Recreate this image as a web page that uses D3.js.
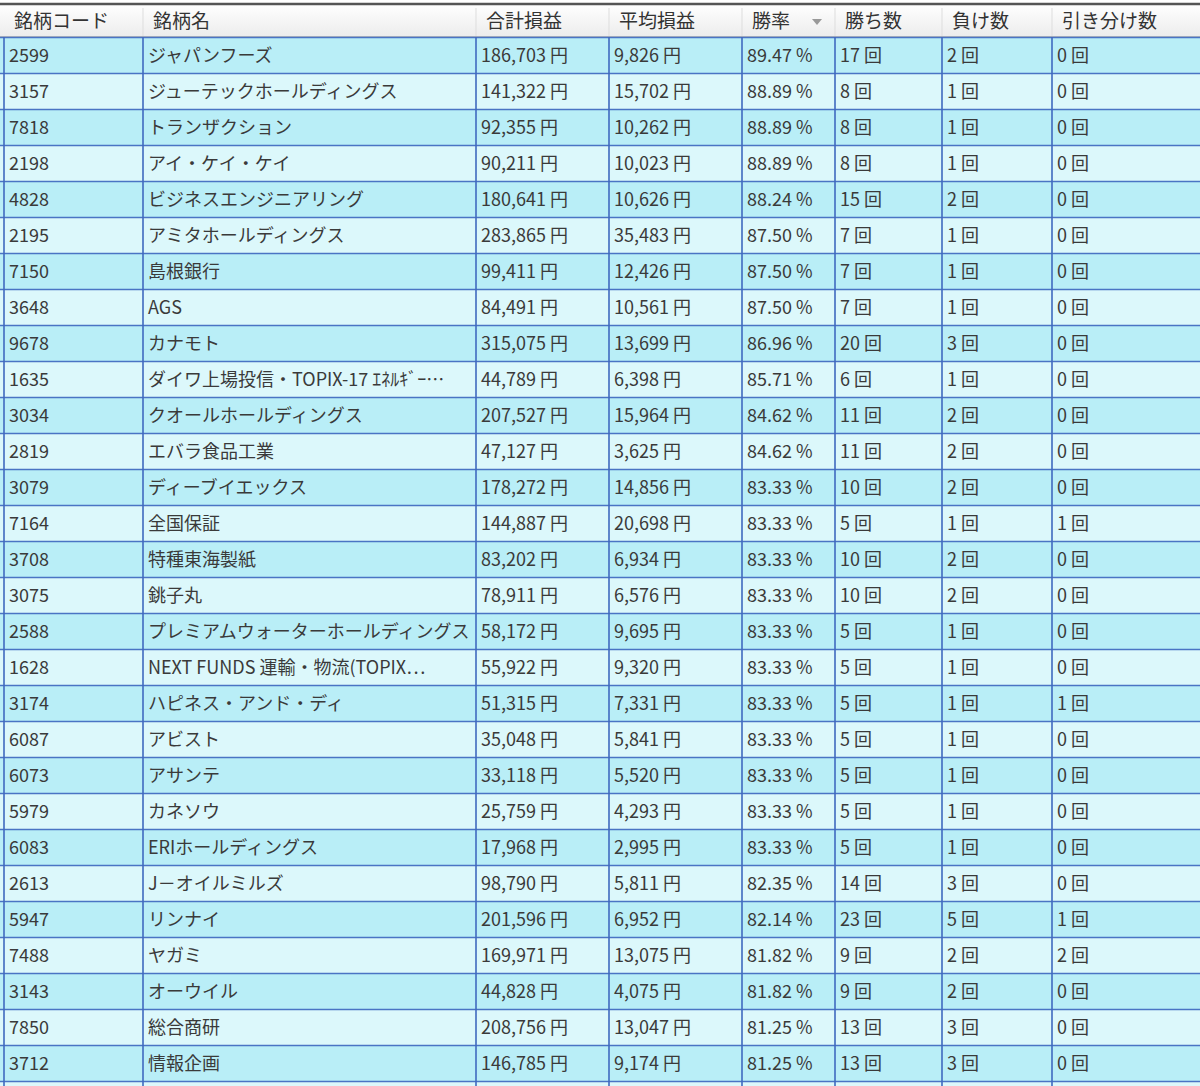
<!DOCTYPE html>
<html><head><meta charset="utf-8">
<script src="https://cdn.jsdelivr.net/npm/d3@7"></script>
<style>body{margin:0;background:#fff;}svg{display:block;font-family:"Noto Sans CJK JP","Noto Sans",sans-serif;}</style>
</head><body><svg id="c" width="1200" height="1086"></svg>
<script>
const headers=["銘柄コード","銘柄名","合計損益","平均損益","勝率","勝ち数","負け数","引き分け数"];
const codes=["2599","3157","7818","2198","4828","2195","7150","3648","9678","1635","3034","2819","3079","7164","3708","3075","2588","1628","3174","6087","6073","5979","6083","2613","5947","7488","3143","7850","3712"];
const names=["ジャパンフーズ","ジューテックホールディングス","トランザクション","アイ・ケイ・ケイ","ビジネスエンジニアリング","アミタホールディングス","島根銀行","AGS","カナモト","ダイワ上場投信・TOPIX-17 ｴﾈﾙｷﾞｰ…","クオールホールディングス","エバラ食品工業","ディーブイエックス","全国保証","特種東海製紙","銚子丸","プレミアムウォーターホールディングス","NEXT FUNDS 運輸・物流(TOPIX…","ハピネス・アンド・ディ","アビスト","アサンテ","カネソウ","ERIホールディングス","J－オイルミルズ","リンナイ","ヤガミ","オーウイル","総合商研","情報企画"];
const totalPL=[186703,141322,92355,90211,180641,283865,99411,84491,315075,44789,207527,47127,178272,144887,83202,78911,58172,55922,51315,35048,33118,25759,17968,98790,201596,169971,44828,208756,146785];
const avgPL=[9826,15702,10262,10023,10626,35483,12426,10561,13699,6398,15964,3625,14856,20698,6934,6576,9695,9320,7331,5841,5520,4293,2995,5811,6952,13075,4075,13047,9174];
const winRate=[89.47,88.89,88.89,88.89,88.24,87.50,87.50,87.50,86.96,85.71,84.62,84.62,83.33,83.33,83.33,83.33,83.33,83.33,83.33,83.33,83.33,83.33,83.33,82.35,82.14,81.82,81.82,81.25,81.25];
const wins=[17,8,8,8,15,7,7,7,20,6,11,11,10,5,10,10,5,5,5,5,5,5,5,14,23,9,9,13,13];
const losses=[2,1,1,1,2,1,1,1,3,1,2,2,2,1,2,2,1,1,1,1,1,1,1,3,5,2,2,3,3];
const draws=[0,0,0,0,0,0,0,0,0,0,0,0,0,1,0,0,0,0,1,0,0,0,0,0,1,2,0,0,0];

const colEdges=[4,143,476,609,742,835,942,1052,1200];
const svg=d3.select("#c");
const defs=svg.append("defs");
const fmt=d3.format(",");
const rows=codes.map((c,i)=>[c,names[i],fmt(totalPL[i])+" 円",fmt(avgPL[i])+" 円",winRate[i].toFixed(2)+" %",wins[i]+" 回",losses[i]+" 回",draws[i]+" 回"]);
const y=d3.scaleBand().domain(d3.range(rows.length+1)).range([37,37+36*(rows.length+1)]);
colEdges.slice(0,8).forEach((x,j)=>defs.append("clipPath").attr("id","cl"+j).append("rect").attr("x",x).attr("y",0).attr("width",colEdges[j+1]-x-3).attr("height",1086));
const g0=defs.append("linearGradient").attr("id","hg").attr("x1",0).attr("x2",0).attr("y1",0).attr("y2",1);
g0.append("stop").attr("offset",0).attr("stop-color","#ffffff");
g0.append("stop").attr("offset",1).attr("stop-color","#ececec");
svg.append("rect").attr("x",0).attr("y",4).attr("width",1200).attr("height",33).attr("fill","url(#hg)");
svg.append("line").attr("x1",0).attr("x2",1200).attr("y1",4).attr("y2",4).attr("stroke","#555").attr("stroke-width",2.5);
svg.append("line").attr("x1",0).attr("x2",1200).attr("y1",36.5).attr("y2",36.5).attr("stroke","#bbb");
headers.forEach((h,j)=>{
  svg.append("text").attr("x",colEdges[j]+10).attr("y",28).attr("font-size",19).attr("fill","#333").text(h);
  if(j>0) svg.append("line").attr("x1",colEdges[j]).attr("x2",colEdges[j]).attr("y1",8).attr("y2",36).attr("stroke","#ddd");
});
svg.append("path").attr("d","M812,19 l10,0 l-5,6z").attr("fill","#999");
const all=d3.range(rows.length+1);
svg.selectAll("rect.row").data(all).join("rect").attr("x",0).attr("width",1200)
  .attr("y",i=>y(i)).attr("height",y.bandwidth()).attr("fill",i=>i%2?"#dcf8fb":"#b9eef7");
rows.forEach((r,i)=>{
  r.forEach((t,j)=>{
    svg.append("text").attr("clip-path","url(#cl"+j+")").attr("x",colEdges[j]+5).attr("y",y(i)+y.bandwidth()/2+7).attr("font-size",18).attr("fill","#3a3a3a").text(t);
  });
});
all.forEach(i=>svg.append("line").attr("x1",0).attr("x2",1200).attr("y1",y(i)+0.5).attr("y2",y(i)+0.5).attr("stroke","#4a74c4").attr("stroke-width",1.5));
colEdges.slice(0,8).forEach(x=>svg.append("line").attr("x1",x).attr("x2",x).attr("y1",37).attr("y2",1086).attr("stroke","#3f69bf").attr("stroke-width",1.6));
</script></body></html>
